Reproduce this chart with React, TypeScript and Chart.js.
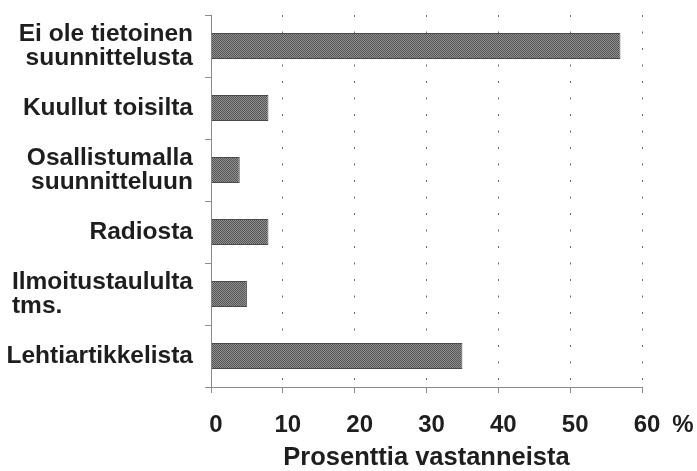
import React, { useEffect, useRef } from "react";
import { Chart, registerables } from "chart.js";

Chart.register(...registerables);

const categories: string[][] = [
  ["Ei ole tietoinen", "suunnittelusta"],
  ["Kuullut toisilta"],
  ["Osallistumalla", "suunnitteluun"],
  ["Radiosta"],
  ["Ilmoitustaululta", "tms."],
  ["Lehtiartikkelista"],
];
const values: number[] = [57, 8, 4, 8, 5, 35];
const xTicks: number[] = [0, 10, 20, 30, 40, 50, 60];
const xUnit = "%";
const xTitle = "Prosenttia vastanneista";

const FONT = "'Liberation Sans', Arial, Helvetica, sans-serif";
const TEXT = "#1e1e1e";
const TICK_SIZE = 24;

function makePattern(): CanvasPattern | string {
  const c = document.createElement("canvas");
  c.width = 2;
  c.height = 2;
  const g = c.getContext("2d");
  if (!g) return "#6e6e6e";
  g.fillStyle = "#909090";
  g.fillRect(0, 0, 2, 2);
  g.fillStyle = "#555555";
  g.fillRect(0, 0, 1, 1);
  g.fillRect(1, 1, 1, 1);
  const p = g.createPattern(c, "repeat");
  return p || "#6e6e6e";
}

const labelPlugin = {
  id: "blockLabels",
  afterDraw(chart: any) {
    const ctx = chart.ctx;
    const y = chart.scales.y;
    const x = chart.scales.x;
    const opts = chart.options.plugins.blockLabels;
    const right = chart.chartArea.left - opts.gap;
    ctx.save();
    ctx.font = `bold ${opts.size}px ${FONT}`;
    ctx.fillStyle = TEXT;
    ctx.textBaseline = "middle";
    categories.forEach((lines, i) => {
      const cy = y.getPixelForTick(i);
      const maxW = Math.max(...lines.map((l) => ctx.measureText(l).width));
      lines.forEach((line, j) => {
        const ly = cy + (j - (lines.length - 1) / 2) * opts.lineHeight;
        if (opts.leftLines.includes(line)) {
          ctx.textAlign = "left";
          ctx.fillText(line, right - maxW, ly);
        } else {
          ctx.textAlign = "right";
          ctx.fillText(line, right, ly);
        }
      });
    });
    // unit after the last x tick label
    const items = x.getLabelItems();
    const last = items[items.length - 1];
    if (last) {
      ctx.font = `bold ${TICK_SIZE}px ${FONT}`;
      const w = ctx.measureText(String(last.label)).width;
      const off = last.textOffset ?? last.options.textOffset ?? 0;
      ctx.textAlign = "left";
      ctx.textBaseline = last.options.textBaseline;
      ctx.fillText(
        xUnit,
        last.options.translation[0] + w / 2 + opts.unitGap,
        last.options.translation[1] + off
      );
    }
    ctx.restore();
  },
};

export default function App() {
  const ref = useRef<HTMLCanvasElement | null>(null);
  useEffect(() => {
    document.body.style.margin = "0";
    const canvas = ref.current;
    if (!canvas) return;
    const chart = new Chart(canvas, {
      type: "bar",
      data: {
        labels: categories.map((c) => c.join(" ")),
        datasets: [
          {
            data: values,
            backgroundColor: makePattern() as any,
            borderColor: "#4a4a4a",
            borderWidth: 1,
            barPercentage: 0.42,
            categoryPercentage: 1,
          },
        ],
      },
      options: {
        indexAxis: "y",
        responsive: false,
        animation: false,
        events: [],
        layout: { padding: { left: 0, right: 55, top: 15, bottom: 0 } },
        plugins: {
          legend: { display: false },
          tooltip: { enabled: false },
          blockLabels: { gap: 18, size: 24.5, lineHeight: 24, leftLines: ["tms."], unitGap: 12 },
        } as any,
        scales: {
          x: {
            type: "linear",
            min: xTicks[0],
            max: xTicks[xTicks.length - 1],
            afterBuildTicks: (s: any) => {
              s.ticks = xTicks.map((v) => ({ value: v }));
            },
            afterFit: (s: any) => {
              s.height = 84;
            },
            border: { display: true, color: "#8a8a8a", width: 1, dash: [2, 14.5] },
            grid: {
              color: (c: any) => (c.tick && c.tick.value === 0 ? "rgba(0,0,0,0)" : "#6a6a6a"),
              lineWidth: 1,
              drawTicks: true,
              tickLength: 6,
              tickColor: "#8a8a8a",
              tickBorderDash: [],
            } as any,
            ticks: {
              color: TEXT,
              font: { family: FONT, size: TICK_SIZE, weight: "bold" },
              padding: 18,
              labelOffset: 5,
              maxRotation: 0,
              autoSkip: false,
              callback: (v: any) => `${v}`,
            },
            title: {
              display: true,
              text: xTitle,
              color: TEXT,
              font: { family: FONT, size: 25.5, weight: "bold", lineHeight: 1 },
              padding: { top: 0, bottom: 0 },
            },
          },
          y: {
            type: "category",
            afterFit: (s: any) => {
              s.width = 211;
            },
            border: { display: true, color: "#8a8a8a", width: 1 },
            grid: {
              offset: true,
              drawOnChartArea: false,
              drawTicks: true,
              tickLength: 6,
              color: "#8a8a8a",
            },
            ticks: { display: false },
          },
        },
      },
      plugins: [labelPlugin],
    });
    return () => chart.destroy();
  }, []);
  return (
    <div style={{ position: "absolute", left: 0, top: 0, width: 697, height: 471, background: "#fff" }}>
      <canvas ref={ref} width={697} height={471} style={{ width: 697, height: 471 }} />
    </div>
  );
}
